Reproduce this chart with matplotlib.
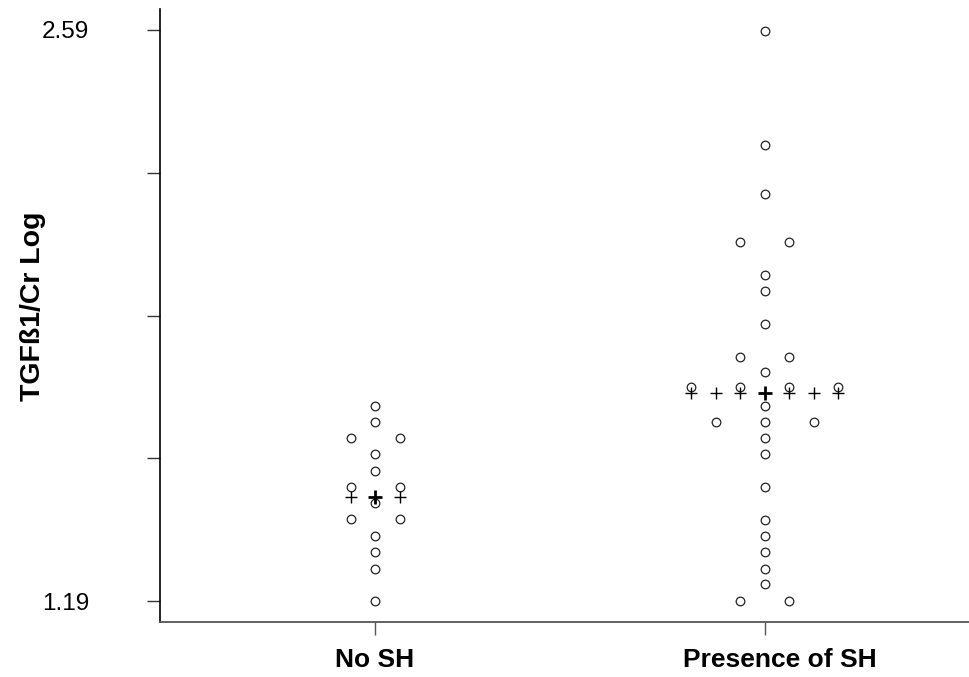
import matplotlib
matplotlib.use("Agg")
import matplotlib.pyplot as plt
import numpy as np
from matplotlib.transforms import ScaledTranslation

plt.rcParams['font.family'] = ['Liberation Sans', 'DejaVu Sans']

# TGFb1/Cr (log) per patient
groups = ["No SH", "Presence of SH"]
no_sh = [1.669, 1.630, 1.589, 1.589, 1.550, 1.510, 1.470, 1.470,
         1.430, 1.390, 1.390, 1.350, 1.309, 1.269, 1.190]
presence_sh = [2.588, 2.309, 2.189, 2.069, 2.069, 1.989, 1.950, 1.869,
               1.789, 1.789, 1.751, 1.715, 1.715, 1.715, 1.715, 1.669,
               1.630, 1.630, 1.630, 1.589, 1.550, 1.469, 1.389, 1.349,
               1.309, 1.269, 1.231, 1.190, 1.190]
group_means = [1.446, 1.700]
ytick_vals = [1.19, 1.54, 1.89, 2.24, 2.59]
ytick_labels = ["1.19", "", "", "", "2.59"]

step = 0.1258  # horizontal spacing between stacked dots


def max_row(vals):
    _, counts = np.unique(vals, return_counts=True)
    return counts.max()


def stack_positions(center, values):
    vals = np.asarray(values)
    xs, ys = [], []
    for v in np.unique(vals):
        n = int(np.sum(vals == v))
        offs = (np.arange(n) - (n - 1) / 2) * step
        xs.extend(center + offs)
        ys.extend([v] * n)
    return np.array(xs), np.array(ys), max_row(vals)


fig = plt.figure(figsize=(9.7, 6.77), dpi=100)
ax = fig.add_axes([0.1653, 0.0812, 0.8347, 0.9048])

for i, data in enumerate([no_sh, presence_sh]):
    xs, ys, nmax = stack_positions(i, data)
    ax.plot(xs, ys, linestyle='none', marker='o', ms=6.2, mfc='white',
            mec='#222222', mew=0.9, zorder=3)
    # mean shown as a row of crosses across the widest row
    half = (nmax - 1) / 2 * step
    cx = np.arange(-half, half + 1e-9, step / 2) + i
    side = cx[np.abs(cx - i) > 1e-6]
    ax.plot(side, [group_means[i]] * len(side), linestyle='none', marker='+',
            ms=8, mew=1.0, color='black', zorder=4)
    ax.plot([i], [group_means[i]], linestyle='none', marker='+',
            ms=10, mew=2.0, color='black', zorder=4)

ax.set_xlim(-0.5512, 1.5276)
ax.set_ylim(1.1385, 2.6403)

ax.set_xticks([0, 1])
ax.set_xticklabels(groups, fontsize=19, fontweight='bold')
ax.set_yticks(ytick_vals)
ax.set_yticklabels(ytick_labels, fontsize=17.5)

ax.tick_params(axis='y', direction='out', length=9.4, width=1.0,
               color='#333333', pad=42)
ax.tick_params(axis='x', direction='out', length=9.4, width=1.0,
               color='#555555', pad=9)

# second category label sits a bit right of its tick
lbl = ax.get_xticklabels()[1]
lbl.set_transform(lbl.get_transform() +
                  ScaledTranslation(15 / 100, 0, fig.dpi_scale_trans))

ax.set_ylabel("TGFß1/Cr Log", fontsize=20.5, fontweight='bold', va='center')
ax.yaxis.set_label_coords(-0.157, 0.516)

for s in ['top', 'right']:
    ax.spines[s].set_visible(False)
ax.spines['left'].set_color('black')
ax.spines['left'].set_linewidth(1.2)
ax.spines['bottom'].set_color('#555555')
ax.spines['bottom'].set_linewidth(1.3)

fig.savefig("out.png", dpi=100)
